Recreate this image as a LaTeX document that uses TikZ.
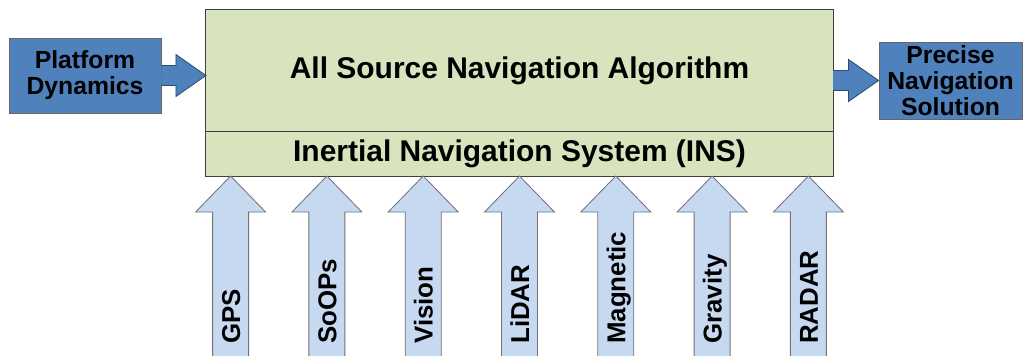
\documentclass[tikz,border=0pt]{standalone}
\usepackage{fontspec}
\setmainfont{Liberation Sans}
\usepackage{tikz}
\usetikzlibrary{positioning, calc}
\definecolor{algGreen}{HTML}{D7E4BD}
\definecolor{navBlue}{HTML}{4F81BD}
\definecolor{srcBlue}{HTML}{C6D9F1}
\tikzstyle{greenbox}=[draw=black!75, line width=0.7pt, fill=algGreen, minimum width=15.675cm, inner sep=0pt, outer sep=0pt, font=\bfseries\fontsize{21.3}{24}\selectfont]
\tikzstyle{bluebox}=[draw=black!60, line width=0.6pt, fill=navBlue, inner sep=0pt, align=center, font=\bfseries\fontsize{17.6}{18.4}\selectfont]
\tikzstyle{bigarrow}=[draw=navBlue!60!black, line width=0.6pt, fill=navBlue]
\tikzstyle{srcarrow}=[draw=black!55, line width=0.6pt, fill=srcBlue]
\tikzstyle{srclabel}=[rotate=90, anchor=base west, inner sep=0pt, font=\bfseries\fontsize{18.4}{19}\selectfont]

% block arrow from #1 to its tip #2 (horizontal)
\newcommand{\blockarrow}[2]{%
  \draw[bigarrow] ($(#1)+(0,-10)$) -- ($(#2)+(-30,-10)$) -- ($(#2)+(-30,-21)$) -- (#2)
    -- ($(#2)+(-30,21)$) -- ($(#2)+(-30,10)$) -- ($(#1)+(0,10)$);}

\begin{document}
\begin{tikzpicture}[x=0.025cm, y=-0.025cm]
  \useasboundingbox (0,0) rectangle (1024,356);

  % algorithm and INS
  \node[greenbox, minimum height=3.025cm] (alg) at (519.5,70.5) {All Source Navigation Algorithm};
  \node[greenbox, minimum height=1.125cm, below=0pt of alg] (ins) {Inertial Navigation System (INS)};

  % input and output
  \node[bluebox, minimum width=3.8cm, minimum height=1.875cm] (pd) at (85,75.5) {Platform\\Dynamics};
  \node[bluebox, minimum width=3.575cm, minimum height=1.925cm] (pns) at (950.5,80.5) {Precise\\Navigation\\Solution};

  \blockarrow{pd.east}{alg.west |- pd.east}
  \blockarrow{alg.east |- pns.west}{pns.west}

  % sensor arrows
  \foreach \lbl [count=\i] in {GPS,SoOPs,Vision,LiDAR,Magnetic,Gravity,RADAR}{
    \pgfmathsetmacro{\xs}{(\i-4)*96.3}
    \coordinate (tip\i) at ($(ins.south)+(\xs,0)$);
    \draw[srcarrow] ($(tip\i)+(-18,180)$) -- ($(tip\i)+(-18,36)$) -- ($(tip\i)+(-35,36)$) -- (tip\i)
      -- ($(tip\i)+(35,36)$) -- ($(tip\i)+(18,36)$) -- ($(tip\i)+(18,180)$);
    \node[srclabel] (src\i) at ($(tip\i)+(9.5,168)$) {\lbl};
  }
\end{tikzpicture}
\end{document}
